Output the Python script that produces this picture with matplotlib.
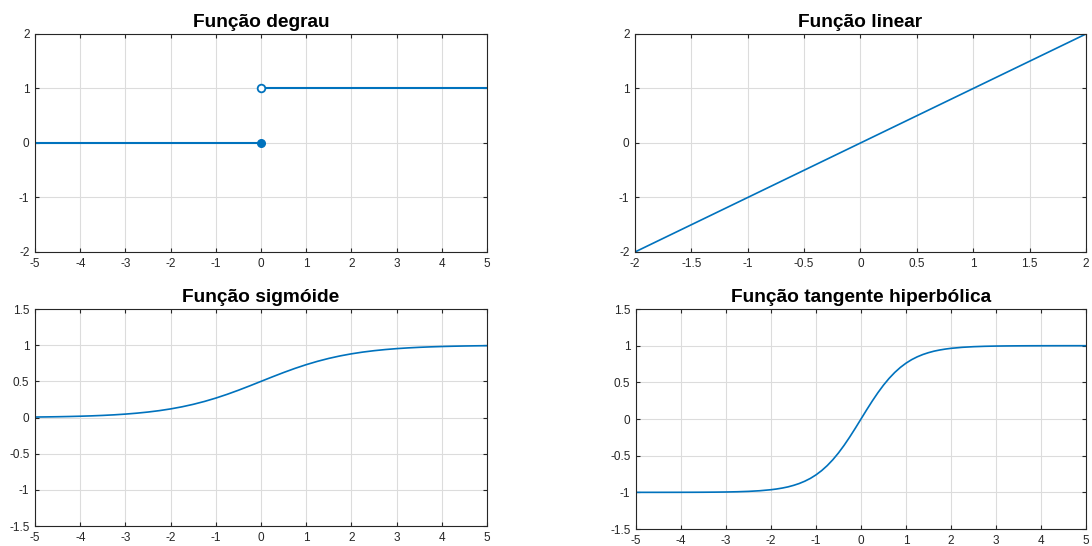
import matplotlib
matplotlib.use("Agg")
import matplotlib.pyplot as plt

plt.rcParams["font.family"] = ["Liberation Sans", "DejaVu Sans"]
plt.rcParams["axes.unicode_minus"] = False

# função degrau
step_x_left = [-5, 0]
step_y_left = [0, 0]
step_x_right = [0, 5]
step_y_right = [1, 1]

# função linear
lin_x = [-2, 2]
lin_y = [-2, 2]

# sigmóide
sig_x = [-5, -4.75, -4.5, -4.25, -4, -3.75, -3.5, -3.25, -3, -2.75, -2.5,
         -2.25, -2, -1.75, -1.5, -1.25, -1, -0.75, -0.5, -0.25, 0,
         0.25, 0.5, 0.75, 1, 1.25, 1.5, 1.75, 2, 2.25, 2.5,
         2.75, 3, 3.25, 3.5, 3.75, 4, 4.25, 4.5, 4.75, 5]
sig_y = [0.0067, 0.0086, 0.011, 0.0141, 0.018, 0.023, 0.0293, 0.0373, 0.0474,
         0.0601, 0.0759, 0.0953, 0.1192, 0.148, 0.1824, 0.2227, 0.2689, 0.3208,
         0.3775, 0.4378, 0.5, 0.5622, 0.6225, 0.6792, 0.7311, 0.7773, 0.8176,
         0.852, 0.8808, 0.9047, 0.9241, 0.9399, 0.9526, 0.9627, 0.9707, 0.977,
         0.982, 0.9859, 0.989, 0.9914, 0.9933]

# tangente hiperbólica (mais pontos perto do centro)
tanh_x = [-5, -4.75, -4.5, -4.25, -4, -3.75, -3.5, -3.25, -3, -2.75, -2.5,
          -2.25, -2, -1.875, -1.75, -1.625, -1.5, -1.375, -1.25, -1.125, -1,
          -0.875, -0.75, -0.625, -0.5, -0.375, -0.25, -0.125, 0,
          0.125, 0.25, 0.375, 0.5, 0.625, 0.75, 0.875, 1,
          1.125, 1.25, 1.375, 1.5, 1.625, 1.75, 1.875, 2,
          2.25, 2.5, 2.75, 3, 3.25, 3.5, 3.75, 4, 4.25, 4.5, 4.75, 5]
tanh_y = [-0.9999, -0.9999, -0.9998, -0.9996, -0.9993, -0.9989, -0.9982,
          -0.997, -0.9951, -0.9919, -0.9866, -0.978, -0.964, -0.9541, -0.9414,
          -0.9258, -0.9051, -0.8799, -0.8483, -0.8096, -0.7616, -0.7039,
          -0.6351, -0.5546, -0.4621, -0.3584, -0.2449, -0.1244, 0.0,
          0.1244, 0.2449, 0.3584, 0.4621, 0.5546, 0.6351, 0.7039, 0.7616,
          0.8096, 0.8483, 0.8799, 0.9051, 0.9258, 0.9414, 0.9541, 0.964,
          0.978, 0.9866, 0.9919, 0.9951, 0.997, 0.9982, 0.9989, 0.9993,
          0.9996, 0.9998, 0.9999, 0.9999]

ticks_5 = [-5, -4, -3, -2, -1, 0, 1, 2, 3, 4, 5]
ticks_2 = [-2, -1, 0, 1, 2]
ticks_lin_x = [-2, -1.5, -1, -0.5, 0, 0.5, 1, 1.5, 2]
labels_lin_x = ["-2", "-1.5", "-1", "-0.5", "0", "0.5", "1", "1.5", "2"]
ticks_15 = [-1.5, -1, -0.5, 0, 0.5, 1, 1.5]
labels_15 = ["-1.5", "-1", "-0.5", "0", "0.5", "1", "1.5"]

blue = "#0072BD"
dark = "#262626"


def matlab_axes(ax, title):
    ax.set_title(title, fontsize=13.8, fontweight="bold", pad=5)
    ax.grid(True, color="#dcdcdc", linewidth=0.8)
    ax.set_axisbelow(True)
    ax.tick_params(direction="in", top=True, right=True, length=3,
                   width=0.8, colors=dark, labelsize=8.5, pad=4)
    for s in ax.spines.values():
        s.set_color(dark)
        s.set_linewidth(0.8)


fig = plt.figure(figsize=(10.92, 5.46), dpi=100)

ax0 = fig.add_axes([0.0321, 0.5385, 0.4139, 0.3993])
ax1 = fig.add_axes([0.5815, 0.5385, 0.4130, 0.3993])
ax2 = fig.add_axes([0.0321, 0.0366, 0.4139, 0.3974])
ax3 = fig.add_axes([0.5824, 0.0311, 0.4121, 0.4029])

# degrau
ax0.plot(step_x_left, step_y_left, color=blue, lw=1.5)
ax0.plot(step_x_right, step_y_right, color=blue, lw=1.5)
ax0.plot(step_x_left[-1:], step_y_left[-1:], "o", color=blue, ms=5.5,
         clip_on=False, zorder=5)
ax0.plot(step_x_right[:1], step_y_right[:1], "o", mfc="white", mec=blue,
         mew=1.3, ms=5.5, clip_on=False, zorder=5)
ax0.set_xlim(-5, 5)
ax0.set_ylim(-2, 2)
ax0.set_xticks(ticks_5)
ax0.set_yticks(ticks_2)
matlab_axes(ax0, "Função degrau")

# linear
ax1.plot(lin_x, lin_y, color=blue, lw=1.2)
ax1.set_xlim(-2, 2)
ax1.set_ylim(-2, 2)
ax1.set_xticks(ticks_lin_x, labels_lin_x)
ax1.set_yticks(ticks_2)
matlab_axes(ax1, "Função linear")

# sigmóide
ax2.plot(sig_x, sig_y, color=blue, lw=1.2)
ax2.set_xlim(-5, 5)
ax2.set_ylim(-1.5, 1.5)
ax2.set_xticks(ticks_5)
ax2.set_yticks(ticks_15, labels_15)
matlab_axes(ax2, "Função sigmóide")

# tangente hiperbólica
ax3.plot(tanh_x, tanh_y, color=blue, lw=1.2)
ax3.set_xlim(-5, 5)
ax3.set_ylim(-1.5, 1.5)
ax3.set_xticks(ticks_5)
ax3.set_yticks(ticks_15, labels_15)
matlab_axes(ax3, "Função tangente hiperbólica")

fig.savefig("out.png", dpi=100)
